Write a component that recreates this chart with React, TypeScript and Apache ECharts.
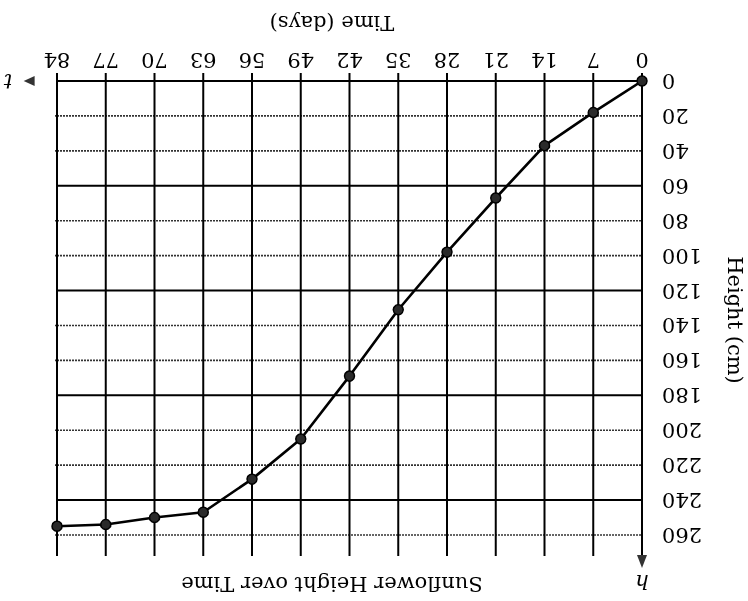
import React, { useEffect, useRef } from "react";
import * as echarts from "echarts";

const days = [0, 7, 14, 21, 28, 35, 42, 49, 56, 63, 70, 77, 84];
const heights = [0, 18, 37, 67, 98, 131, 169, 205, 228, 247, 250, 254, 255];
const timeTicks = [0, 7, 14, 21, 28, 35, 42, 49, 56, 63, 70, 77, 84];
const heightTicks = [0, 20, 40, 60, 80, 100, 120, 140, 160, 180, 200, 220, 240, 260];

const FONT = '"DejaVu Serif", "Liberation Serif", serif';

export default function App() {
  const ref = useRef<HTMLDivElement>(null);
  useEffect(() => {
    if (!ref.current) return;
    const chart = echarts.init(ref.current, null, { renderer: "svg" });

    // grid-line extents beyond the axis range (in data units)
    const xLo = -1.15, xHi = 87.45, xArrowBase = 87.3, xArrowMid = 88.0;
    const yLo = -4.6, yHi = 272, yArrowBase = 271.5, yArrowMid = 275.2;

    const solid = { color: "#000", width: 2, type: "solid" as const };
    const dotted = { color: "#333", width: 1.6, type: [2, 1] as any };

    const series: any[] = [];
    heightTicks.forEach((h, i) => {
      series.push({
        type: "line",
        data: [[xLo, h], [h === 0 ? xArrowBase : xHi, h]],
        symbol: "none",
        clip: false,
        silent: true,
        z: 1,
        lineStyle: i % 3 === 0 ? solid : dotted,
      });
    });
    timeTicks.forEach((t) => {
      series.push({
        type: "line",
        data: [[t, yLo], [t, t === 0 ? yArrowBase : yHi]],
        symbol: "none",
        clip: false,
        silent: true,
        z: 1,
        lineStyle: solid,
      });
    });
    series.push({
      type: "scatter",
      data: [[xArrowMid, 0]],
      symbol: "triangle",
      symbolSize: [10, 11],
      symbolRotate: -90,
      clip: false,
      silent: true,
      itemStyle: { color: "#000" },
      z: 2,
    });
    series.push({
      type: "scatter",
      data: [[0, yArrowMid]],
      symbol: "triangle",
      symbolSize: [10, 13],
      symbolRotate: 0,
      clip: false,
      silent: true,
      itemStyle: { color: "#000" },
      z: 2,
    });
    series.push({
      type: "line",
      data: days.map((d, i) => [d, heights[i]]),
      symbol: "circle",
      symbolSize: 10,
      clip: false,
      itemStyle: { color: "#2a2a2a", borderColor: "#000", borderWidth: 1.5 },
      lineStyle: { color: "#000", width: 2.6 },
      z: 5,
    });

    chart.setOption({
      animation: false,
      backgroundColor: "#fff",
      grid: { left: 106, right: 57, top: 66, bottom: 81 },
      xAxis: {
        type: "value",
        min: 0,
        max: 84,
        interval: 7,
        axisLine: { show: false },
        axisTick: { show: false },
        splitLine: { show: false },
        axisLabel: { margin: 10, fontSize: 21, fontFamily: FONT, color: "#000" },
      },
      yAxis: {
        type: "value",
        min: 0,
        max: 260,
        interval: 20,
        axisLine: { show: false },
        axisTick: { show: false },
        splitLine: { show: false },
        axisLabel: { margin: 20, fontSize: 21, fontFamily: FONT, color: "#000" },
      },
      graphic: [
        {
          type: "text",
          x: 416,
          y: 17,
          style: {
            text: "Sunflower Height over Time",
            font: `21px ${FONT}`,
            fill: "#000",
            align: "center",
            verticalAlign: "middle",
            textAlign: "center",
            textVerticalAlign: "middle",
          },
        },
        {
          type: "text",
          x: 416,
          y: 578,
          style: {
            text: "Time (days)",
            font: `21px ${FONT}`,
            fill: "#000",
            align: "center",
            verticalAlign: "middle",
            textAlign: "center",
            textVerticalAlign: "middle",
          },
        },
        {
          type: "text",
          x: 13,
          y: 281,
          rotation: Math.PI / 2,
          style: {
            text: "Height (cm)",
            font: `21px ${FONT}`,
            fill: "#000",
            align: "center",
            verticalAlign: "middle",
            textAlign: "center",
            textVerticalAlign: "middle",
          },
        },
        {
          type: "text",
          x: 740,
          y: 520,
          style: {
            text: "t",
            font: `italic 21px ${FONT}`,
            fill: "#000",
            align: "center",
            verticalAlign: "middle",
            textAlign: "center",
            textVerticalAlign: "middle",
          },
        },
        {
          type: "text",
          x: 106,
          y: 19,
          style: {
            text: "h",
            font: `italic 21px ${FONT}`,
            fill: "#000",
            align: "center",
            verticalAlign: "middle",
            textAlign: "center",
            textVerticalAlign: "middle",
          },
        },
      ],
      series,
    });
    return () => chart.dispose();
  }, []);

  return (
    <div
      ref={ref}
      style={{
        position: "fixed",
        left: 0,
        top: 0,
        width: 748,
        height: 601,
        background: "#fff",
        transform: "rotate(180deg)",
      }}
    />
  );
}
